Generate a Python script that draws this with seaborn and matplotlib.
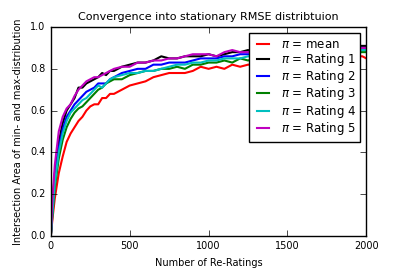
import matplotlib
matplotlib.use("Agg")
import matplotlib.pyplot as plt
import seaborn as sns
import pandas as pd

# number of re-ratings (x positions of the samples)
re_ratings = [0, 10, 25, 50, 75, 100, 125, 150, 175, 200, 225, 250, 275, 300, 325,
              350, 375, 400, 450, 500, 550, 600, 650, 700, 750, 800, 850, 900, 950,
              1000, 1050, 1100, 1150, 1200, 1250, 1300, 1400, 1500, 1600, 1700,
              1800, 1900, 1950, 1975, 2000]

pi_mean = [0, 0.08, 0.18, 0.30, 0.38, 0.45, 0.49, 0.52, 0.55, 0.57, 0.60, 0.62, 0.63,
           0.63, 0.66, 0.66, 0.68, 0.68, 0.70, 0.72, 0.73, 0.74, 0.76, 0.77, 0.78,
           0.78, 0.78, 0.79, 0.81, 0.80, 0.81, 0.80, 0.82, 0.81, 0.82, 0.82, 0.83,
           0.83, 0.84, 0.84, 0.85, 0.85, 0.86, 0.86, 0.85]
pi_rating1 = [0, 0.15, 0.30, 0.45, 0.54, 0.60, 0.63, 0.66, 0.71, 0.71, 0.73, 0.74, 0.75,
              0.76, 0.78, 0.77, 0.79, 0.79, 0.81, 0.82, 0.83, 0.83, 0.84, 0.86, 0.85,
              0.85, 0.86, 0.86, 0.86, 0.87, 0.86, 0.87, 0.88, 0.88, 0.89, 0.88, 0.89,
              0.89, 0.90, 0.90, 0.90, 0.91, 0.91, 0.91, 0.91]
pi_rating2 = [0, 0.13, 0.27, 0.42, 0.51, 0.57, 0.60, 0.63, 0.65, 0.67, 0.69, 0.70, 0.71,
              0.73, 0.73, 0.73, 0.75, 0.76, 0.78, 0.79, 0.80, 0.80, 0.82, 0.82, 0.83,
              0.83, 0.83, 0.84, 0.85, 0.85, 0.85, 0.86, 0.86, 0.87, 0.87, 0.87, 0.88,
              0.88, 0.88, 0.89, 0.89, 0.89, 0.90, 0.90, 0.90]
pi_rating3 = [0, 0.10, 0.23, 0.37, 0.46, 0.52, 0.56, 0.59, 0.61, 0.62, 0.64, 0.66, 0.68,
              0.70, 0.71, 0.73, 0.74, 0.75, 0.75, 0.77, 0.78, 0.79, 0.79, 0.80, 0.80,
              0.81, 0.80, 0.82, 0.82, 0.83, 0.83, 0.84, 0.83, 0.85, 0.84, 0.85, 0.85,
              0.86, 0.86, 0.87, 0.87, 0.87, 0.88, 0.88, 0.88]
pi_rating4 = [0, 0.11, 0.25, 0.40, 0.49, 0.55, 0.59, 0.61, 0.63, 0.65, 0.66, 0.68, 0.70,
              0.72, 0.71, 0.73, 0.75, 0.76, 0.77, 0.78, 0.78, 0.79, 0.79, 0.80, 0.81,
              0.82, 0.82, 0.83, 0.83, 0.84, 0.84, 0.85, 0.85, 0.85, 0.86, 0.86, 0.86,
              0.87, 0.87, 0.88, 0.88, 0.88, 0.89, 0.89, 0.89]
pi_rating5 = [0, 0.18, 0.34, 0.50, 0.57, 0.61, 0.63, 0.67, 0.70, 0.72, 0.74, 0.75, 0.76,
              0.76, 0.77, 0.78, 0.79, 0.80, 0.81, 0.81, 0.83, 0.83, 0.84, 0.84, 0.85,
              0.85, 0.86, 0.87, 0.87, 0.87, 0.86, 0.88, 0.89, 0.88, 0.88, 0.89, 0.89,
              0.89, 0.90, 0.90, 0.90, 0.90, 0.90, 0.90, 0.90]

series_labels = [r"$\pi$ = mean", r"$\pi$ = Rating 1", r"$\pi$ = Rating 2",
                 r"$\pi$ = Rating 3", r"$\pi$ = Rating 4", r"$\pi$ = Rating 5"]
series_values = [pi_mean, pi_rating1, pi_rating2, pi_rating3, pi_rating4, pi_rating5]

plt.style.use("classic")
plt.rcParams["mathtext.fontset"] = "dejavusans"

df = pd.concat([pd.DataFrame({"x": re_ratings, "y": vals, "series": lab})
                for lab, vals in zip(series_labels, series_values)])

palette = dict(zip(series_labels, ["r", "k", "b", "g", "c", "m"]))

fig, ax = plt.subplots(figsize=(4.07, 2.71), dpi=100, facecolor="white")
fig.subplots_adjust(left=0.125, right=0.9, bottom=0.13, top=0.9)

sns.lineplot(data=df, x="x", y="y", hue="series", palette=palette, linewidth=1.5,
             ax=ax, legend=True)

ax.set_xlim(0, 2000)
ax.set_ylim(0, 1.0)
ax.set_xticks([0, 500, 1000, 1500, 2000])
ax.set_yticks([0.0, 0.2, 0.4, 0.6, 0.8, 1.0])
ax.tick_params(labelsize=7)
ax.set_title("Convergence into stationary RMSE distribtuion", fontsize=8)
ax.set_xlabel("Number of Re-Ratings", fontsize=7)
ax.set_ylabel("Intersection Area of min- and max-distribution", fontsize=7)

leg = ax.legend(loc="upper right", fontsize=8.5, fancybox=False, labelspacing=0.02,
                handlelength=1.6, handletextpad=0.7, borderpad=0.4)
leg.get_frame().set_edgecolor("black")

fig.savefig("out.png", dpi=100, facecolor="white")
